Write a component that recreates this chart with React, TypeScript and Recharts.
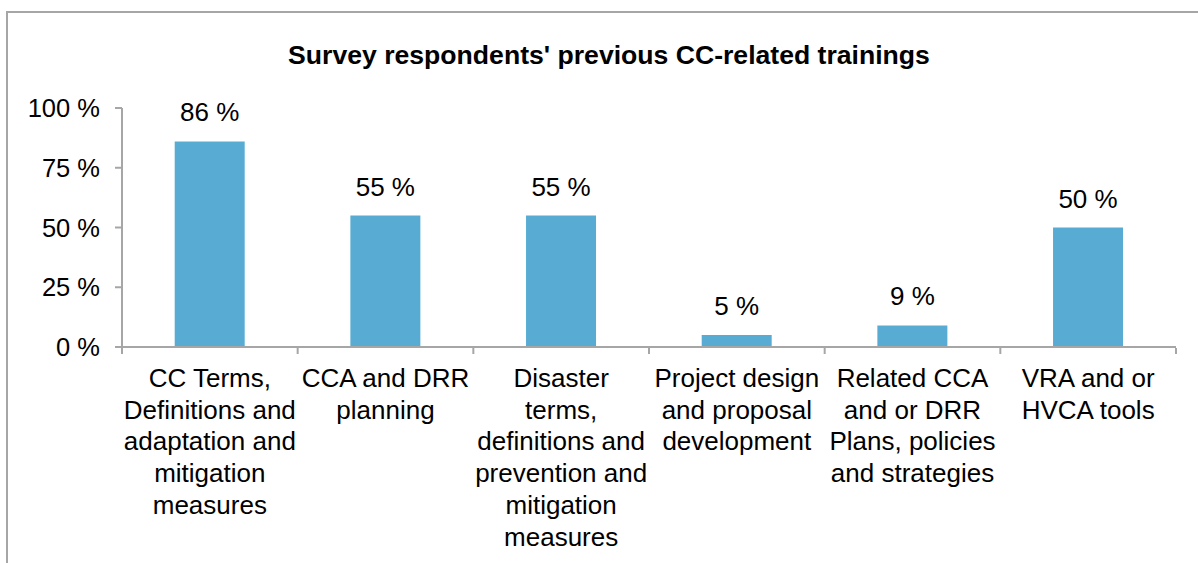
import React from 'react';
import { BarChart, Bar, XAxis, YAxis, LabelList } from 'recharts';

// categories (line breaks as in the reference labels)
const categories = [
  'CC Terms,\nDefinitions and\nadaptation and\nmitigation\nmeasures',
  'CCA and DRR\nplanning',
  'Disaster\nterms,\ndefinitions and\nprevention and\nmitigation\nmeasures',
  'Project design\nand proposal\ndevelopment',
  'Related CCA\nand or DRR\nPlans, policies\nand strategies',
  'VRA and or\nHVCA tools',
];
const shares = [86, 55, 55, 5, 9, 50];
const yTicks = [0, 25, 50, 75, 100];
const edgeTicks = [0, 1, 2, 3, 4, 5, 6];

const data = categories.map((name, i) => ({ name, value: shares[i], edge: i }));

const FONT = '"Liberation Sans", Arial, Helvetica, sans-serif';
const AXIS_GRAY = '#a6a6a6';

// multi-line category label under the axis
const CategoryTick = ({ x, y, payload }: any) => {
  const lines = String(payload.value).split('\n');
  return (
    <text x={x} y={y} textAnchor="middle" fill="#000" fontSize={26} fontFamily={FONT}>
      {lines.map((line, i) => (
        <tspan key={i} x={x} dy={i === 0 ? 40 : 31.7}>
          {line}
        </tspan>
      ))}
    </text>
  );
};

const NoLabel = () => <g />;

export default function App() {
  return (
    <div
      style={{
        position: 'fixed',
        left: 0,
        top: 0,
        width: 1198,
        height: 563,
        overflow: 'hidden',
        background: '#fff',
        fontFamily: FONT,
      }}
    >
      {/* frame, only top/left edges are visible in the crop */}
      <div
        style={{
          position: 'absolute',
          left: 6,
          top: 11,
          width: 1400,
          height: 800,
          border: `2px solid ${AXIS_GRAY}`,
        }}
      />
      <div
        style={{
          position: 'absolute',
          left: 609,
          top: 42,
          transform: 'translateX(-50%)',
          whiteSpace: 'nowrap',
          fontSize: 26.6,
          lineHeight: '26px',
          fontWeight: 'bold',
          color: '#000',
        }}
      >
        Survey respondents' previous CC-related trainings
      </div>
      <div style={{ position: 'absolute', left: 0, top: 0 }}>
        <BarChart
          width={1198}
          height={563}
          data={data}
          margin={{ top: 108, right: 22, bottom: 214, left: 22 }}
          barCategoryGap="30%"
        >
          <XAxis
            dataKey="name"
            height={1}
            axisLine={{ stroke: AXIS_GRAY, strokeWidth: 2 }}
            tickLine={false}
            tickSize={0}
            tickMargin={0}
            interval={0}
            tick={<CategoryTick />}
          />
          {/* category boundary tick marks */}
          <XAxis
            xAxisId="edge"
            dataKey="edge"
            type="number"
            domain={[0, 6]}
            allowDataOverflow
            ticks={edgeTicks}
            interval={0}
            height={1}
            axisLine={false}
            tick={<NoLabel />}
            tickSize={6}
            tickLine={{ stroke: AXIS_GRAY, strokeWidth: 2 }}
          />
          <YAxis
            width={100}
            domain={[0, 100]}
            ticks={yTicks}
            tickFormatter={(v) => `${v} %`}
            axisLine={{ stroke: AXIS_GRAY, strokeWidth: 2 }}
            tickLine={{ stroke: AXIS_GRAY, strokeWidth: 2 }}
            tickSize={7}
            tickMargin={15}
            tick={{ fill: '#000', fontSize: 25.5, fontFamily: FONT }}
          />
          <Bar dataKey="value" fill="#58acd4" isAnimationActive={false}>
            <LabelList
              dataKey="value"
              position="top"
              offset={20}
              formatter={(v: any) => `${v} %`}
              fill="#000"
              fontSize={26}
              fontFamily={FONT}
            />
          </Bar>
        </BarChart>
      </div>
    </div>
  );
}
